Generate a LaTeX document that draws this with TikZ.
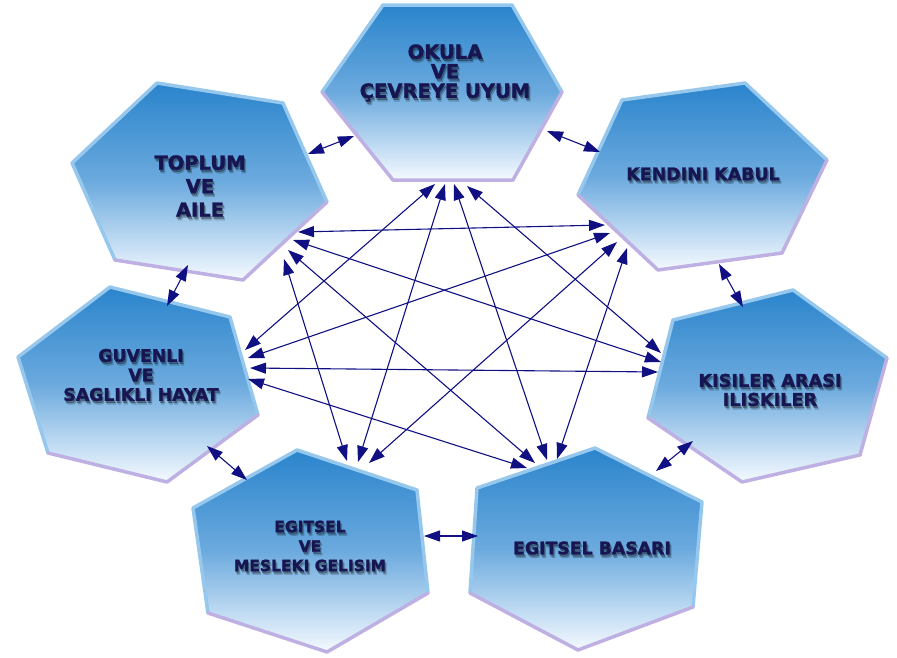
\documentclass[tikz,border=0pt]{standalone}
\usepackage{fontspec}
\setmainfont{DejaVu Sans}[BoldFeatures={FakeBold=1.5}]
\usetikzlibrary{arrows.meta}
\definecolor{arrowc}{RGB}{16,16,130}
\definecolor{txtc}{RGB}{24,22,82}
\definecolor{hextop}{RGB}{42,132,204}
\definecolor{hexmid}{RGB}{108,170,222}
\definecolor{hexbot}{RGB}{245,250,255}
\definecolor{rimtop}{RGB}{150,200,238}
\definecolor{rimbot}{RGB}{190,176,226}
\tikzset{
  hexfill/.style={top color=hextop, bottom color=hexbot, middle color=hexmid, draw=none},
  rimup/.style={draw=rimtop, line width=3.5pt, line join=round, line cap=round},
  rimdown/.style={draw=rimbot, line width=3.5pt, line join=round, line cap=round},
  link/.style={draw=arrowc, line width=1.1pt, {Triangle[length=16pt,width=11pt]}-{Triangle[length=16pt,width=11pt]}},
  lab/.style={text=txtc, align=center, inner sep=0pt},
  labshadow/.style={text=black, align=center, inner sep=0pt},
}
\newcommand{\hexlabel}[6]{% name, x, y, size, skip, text
  \node[labshadow, opacity=0.18, font={\bfseries\fontsize{#4}{#5}\selectfont}] (#1sb) at (#2+2,#3+3.5) {#6};
  \node[labshadow, opacity=0.30, font={\bfseries\fontsize{#4}{#5}\selectfont}] (#1sa) at (#2+1,#3+2) {#6};
  \node[lab, font={\bfseries\fontsize{#4}{#5}\selectfont}] (#1) at (#2,#3) {#6};
}
\begin{document}
\begin{tikzpicture}[x=1pt,y=-1pt]
\useasboundingbox (0,0) rectangle (897,657);
% ---------- hexagons ----------
% OKULA
\path[hexfill] (322,92)--(383,5)--(512,5)--(562,92)--(513,180)--(393,180)--cycle;
\draw[rimup] (322,92)--(383,5)--(512,5)--(562,92);
\draw[rimdown] (562,92)--(513,180)--(393,180)--(322,92);
% TOPLUM
\path[hexfill] (72,163)--(157,83)--(283,103)--(327,202)--(243,280)--(115,260)--cycle;
\draw[rimup] (115,260)--(72,163)--(157,83)--(283,103)--(327,202);
\draw[rimdown] (327,202)--(243,280)--(115,260);
% KENDINI
\path[hexfill] (578,195)--(622,100)--(745,83)--(827,160)--(782,253)--(658,270)--cycle;
\draw[rimup] (578,195)--(622,100)--(745,83)--(827,160);
\draw[rimdown] (827,160)--(782,253)--(658,270)--(578,195);
% KISILER
\path[hexfill] (648,418)--(673,320)--(793,290)--(887,358)--(860,455)--(742,482)--cycle;
\draw[rimup] (648,418)--(673,320)--(793,290)--(887,358);
\draw[rimdown] (887,358)--(860,455)--(742,482)--(648,418);
% BASARI
\path[hexfill] (470,593)--(477,488)--(595,448)--(702,502)--(693,607)--(578,650)--cycle;
\draw[rimup] (470,593)--(477,488)--(595,448)--(702,502)--(693,607);
\draw[rimdown] (693,607)--(578,650)--(470,593);
% MESLEKI
\path[hexfill] (193,508)--(297,450)--(417,490)--(428,593)--(327,652)--(208,613)--cycle;
\draw[rimup] (208,613)--(193,508)--(297,450)--(417,490)--(428,593);
\draw[rimdown] (428,593)--(327,652)--(208,613);
% GUVENLI
\path[hexfill] (18,357)--(110,287)--(230,317)--(258,415)--(167,482)--(48,453)--cycle;
\draw[rimup] (48,453)--(18,357)--(110,287)--(230,317)--(258,415);
\draw[rimdown] (258,415)--(167,482)--(48,453);
% ---------- labels ----------
\hexlabel{okula}{445}{73}{19.5}{19.5}{OKULA\\VE\\ÇEVREYE UYUM}
\hexlabel{toplum}{200}{186}{19.5}{23.5}{TOPLUM\\VE\\AILE}
\hexlabel{kendini}{703}{174}{17.4}{20}{KENDINI KABUL}
\hexlabel{kisiler}{770}{390}{17.7}{19}{KISILER ARASI\\ILISKILER}
\hexlabel{basari}{592}{548}{17.3}{20}{EGITSEL BASARI}
\hexlabel{mesleki}{310}{546}{15.5}{19.5}{EGITSEL\\VE\\MESLEKI GELISIM}
\hexlabel{guvenli}{141}{375}{17.3}{19.5}{GUVENLI\\VE\\SAGLIKLI HAYAT}
% ---------- connector end points ----------
\coordinate (o1) at (435,184); \coordinate (o2) at (445,184);
\coordinate (o3) at (454,184); \coordinate (o4) at (467,186);
\coordinate (t1) at (298,232); \coordinate (t2) at (293,240);
\coordinate (t3) at (288,250); \coordinate (t4) at (284,259);
\coordinate (k1) at (605,225); \coordinate (k2) at (610,233);
\coordinate (k3) at (617,242); \coordinate (k4) at (627,248);
\coordinate (g1) at (245,350); \coordinate (g2) at (248,358);
\coordinate (g3) at (250,368); \coordinate (g4) at (248,379);
\coordinate (s1) at (661,353); \coordinate (s2) at (661,362);
\coordinate (s3) at (658,372);
\coordinate (b1) at (527,468); \coordinate (b2) at (535,463);
\coordinate (b4) at (547,460); \coordinate (b5) at (557,459);
\coordinate (m2) at (347,461); \coordinate (m1) at (358,462);
\coordinate (m3) at (369,463);
% adjacent pairs
\coordinate (to) at (308,154); \coordinate (ot) at (354,136);
\coordinate (ok) at (547,131); \coordinate (ko) at (600,152);
\coordinate (ks) at (719,264); \coordinate (sk) at (743,307);
\coordinate (sb) at (693,441); \coordinate (bs) at (656,471);
\coordinate (bm) at (478,536); \coordinate (mb) at (424,536);
\coordinate (mg) at (247,480); \coordinate (gm) at (207,446);
\coordinate (gt) at (167,306); \coordinate (tg) at (188,265);
% ---------- connectors ----------
\draw[link] (o1) -- (g1);
\draw[link] (o2) -- (m1);
\draw[link] (o3) -- (b4);
\draw[link] (o4) -- (s1);
\draw[link] (t1) -- (k1);
\draw[link] (t2) -- (s2);
\draw[link] (t3) -- (b2);
\draw[link] (t4) -- (m2);
\draw[link] (k2) -- (g2);
\draw[link] (k3) -- (m3);
\draw[link] (k4) -- (b5);
\draw[link] (g3) -- (s3);
\draw[link] (g4) -- (b1);
\draw[link] (to) -- (ot);
\draw[link] (ok) -- (ko);
\draw[link] (ks) -- (sk);
\draw[link] (sb) -- (bs);
\draw[link] (bm) -- (mb);
\draw[link] (mg) -- (gm);
\draw[link] (gt) -- (tg);
\end{tikzpicture}
\end{document}
